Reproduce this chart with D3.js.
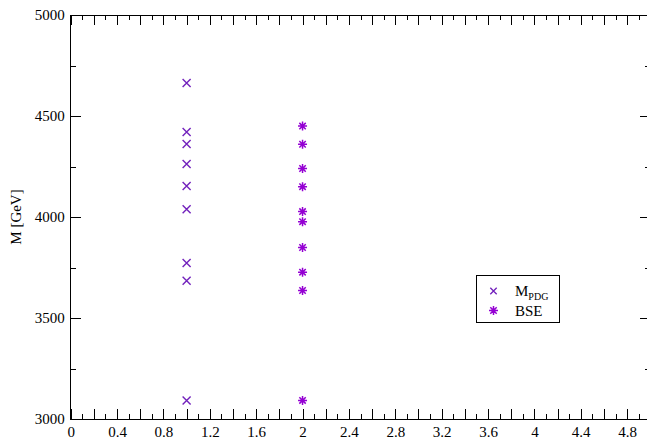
<!DOCTYPE html>
<html>
<head>
<meta charset="utf-8">
<script src="https://cdn.jsdelivr.net/npm/d3@7"></script>
<style>
  body { margin: 0; background: #fff; overflow: hidden; }
  svg { display: block; }
  text { font-family: 'Liberation Serif', 'Times New Roman', Times, serif; }
</style>
</head>
<body>
<div id="chart"></div>
<script>
// values
const pdgX = [1, 1, 1, 1, 1, 1, 1, 1, 1];
const pdgMass = [4663, 4421, 4361, 4262, 4153, 4038, 3772, 3684, 3092];
const bseX = [2, 2, 2, 2, 2, 2, 2, 2, 2, 2];
const bseMass = [4450, 4360, 4240, 4150, 4027, 3977, 3849, 3727, 3636, 3092];
const xTickLabels = [0, 0.4, 0.8, 1.2, 1.6, 2, 2.4, 2.8, 3.2, 3.6, 4, 4.4, 4.8];
const yTickLabels = [3000, 3500, 4000, 4500, 5000];

const width = 647;
const height = 443;
const plot = {left: 70.7, right: 650.3, top: 15, bottom: 419};

const svg = d3.select('#chart')
  .append('svg')
  .attr('width', width)
  .attr('height', height)
  .attr('viewBox', [0, 0, width, height]);

const x = d3.scaleLinear().domain([0, 5]).range([plot.left, plot.right]);
const y = d3.scaleLinear().domain([3000, 5000]).range([plot.bottom, plot.top]);

const xMajor = d3.range(0, 51, 2).map(d => d / 10);
const xMinor = d3.range(1, 50, 2).map(d => d / 10);
const yMajor = d3.range(3000, 5001, 500);
const yMinor = d3.range(3250, 5000, 500);

function ticks(axis, vals, size) {
  return axis.tickValues(vals).tickSize(size).tickFormat('');
}
function clean(g) {
  g.attr('font-family', null).attr('font-size', null);
  g.select('.domain').remove();
  g.selectAll('line').attr('stroke', '#000').attr('shape-rendering', 'crispEdges');
  g.selectAll('text').attr('font-size', 15).attr('fill', '#000');
}

// inward ticks on all four sides
svg.append('g').attr('transform', `translate(0,${plot.bottom})`).call(ticks(d3.axisTop(x), xMajor, 10)).call(clean);
svg.append('g').attr('transform', `translate(0,${plot.bottom})`).call(ticks(d3.axisTop(x), xMinor, 5)).call(clean);
svg.append('g').attr('transform', `translate(0,${plot.top})`).call(ticks(d3.axisBottom(x), xMajor, 10)).call(clean);
svg.append('g').attr('transform', `translate(0,${plot.top})`).call(ticks(d3.axisBottom(x), xMinor, 5)).call(clean);
svg.append('g').attr('transform', `translate(${plot.left},0)`).call(ticks(d3.axisRight(y), yMajor, 10)).call(clean);
svg.append('g').attr('transform', `translate(${plot.left},0)`).call(ticks(d3.axisRight(y), yMinor, 5)).call(clean);
svg.append('g').attr('transform', `translate(${plot.right},0)`).call(ticks(d3.axisLeft(y), yMajor, 10)).call(clean);
svg.append('g').attr('transform', `translate(${plot.right},0)`).call(ticks(d3.axisLeft(y), yMinor, 5)).call(clean);

// tick labels
svg.append('g').attr('transform', `translate(0,${plot.bottom})`)
  .call(d3.axisBottom(x).tickValues(xTickLabels).tickSize(0).tickPadding(7).tickFormat(d3.format('')))
  .call(clean);
svg.append('g').attr('transform', `translate(${plot.left},0)`)
  .call(d3.axisLeft(y).tickValues(yTickLabels).tickSize(0).tickPadding(6).tickFormat(d3.format('')))
  .call(clean);

// frame
svg.append('rect')
  .attr('x', plot.left).attr('y', plot.top)
  .attr('width', plot.right - plot.left).attr('height', plot.bottom - plot.top)
  .attr('fill', 'none').attr('stroke', '#000').attr('shape-rendering', 'crispEdges');

// y label
svg.append('text')
  .attr('transform', `translate(21,${(plot.top + plot.bottom) / 2}) rotate(-90)`)
  .attr('text-anchor', 'middle')
  .attr('font-size', 15)
  .text('M [GeV]');

const crossPath = 'M-4,-4L4,4M-4,4L4,-4';
const starPath = 'M-4.5,0H4.5M0,-4.5V4.5M-3.2,-3.2L3.2,3.2M-3.2,3.2L3.2,-3.2';
const pdgColor = '#7221bc';
const bseColor = '#9400d3';

svg.selectAll('.pdg')
  .data(pdgMass)
  .enter()
  .append('path')
  .attr('class', 'pdg')
  .attr('transform', (d, i) => `translate(${x(pdgX[i])},${y(d)})`)
  .attr('d', crossPath)
  .attr('stroke', pdgColor)
  .attr('stroke-width', 1.4)
  .attr('fill', 'none');

svg.selectAll('.bse')
  .data(bseMass)
  .enter()
  .append('path')
  .attr('class', 'bse')
  .attr('transform', (d, i) => `translate(${x(bseX[i])},${y(d)})`)
  .attr('d', starPath)
  .attr('stroke', bseColor)
  .attr('stroke-width', 1.5)
  .attr('fill', 'none');

// legend
const legend = svg.append('g').attr('transform', 'translate(476,275)');
legend.append('rect')
  .attr('x', 1).attr('y', 1).attr('width', 83).attr('height', 47)
  .attr('fill', '#888').attr('shape-rendering', 'crispEdges');
legend.append('rect')
  .attr('width', 83).attr('height', 47)
  .attr('fill', '#fff').attr('stroke', '#000').attr('shape-rendering', 'crispEdges');
legend.append('path')
  .attr('transform', 'translate(17.5,16)')
  .attr('d', 'M-3.2,-3.2L3.2,3.2M-3.2,3.2L3.2,-3.2')
  .attr('stroke', pdgColor).attr('stroke-width', 1.3).attr('fill', 'none');
legend.append('path')
  .attr('transform', 'translate(17.5,35.5)')
  .attr('d', starPath)
  .attr('stroke', bseColor).attr('stroke-width', 1.5).attr('fill', 'none');
const m = legend.append('text').attr('x', 39).attr('y', 21).attr('font-size', 15);
m.append('tspan').text('M');
m.append('tspan').attr('dy', 4).attr('font-size', 10).text('PDG');
legend.append('text').attr('x', 39).attr('y', 40.5).attr('font-size', 15).text('BSE');
</script>
</body>
</html>
